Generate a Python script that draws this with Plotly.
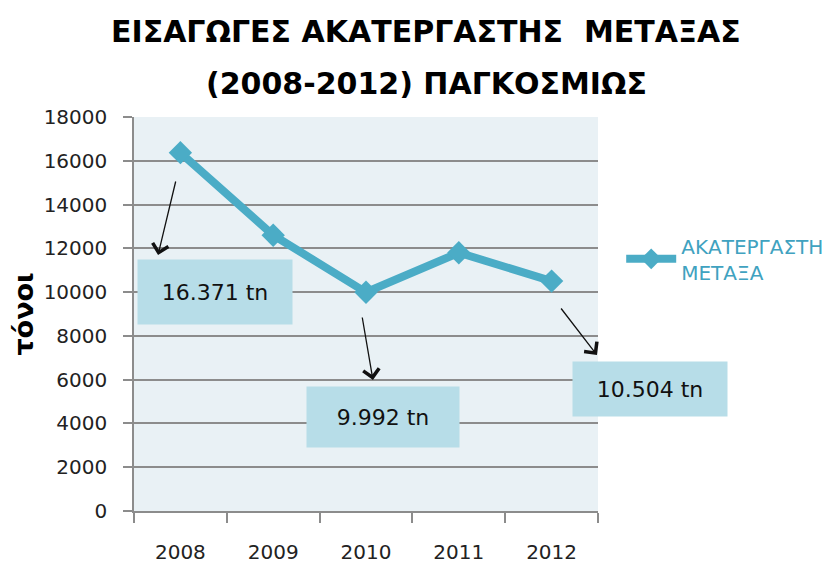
import plotly.graph_objects as go

# data
years = ['2008', '2009', '2010', '2011', '2012']
tonnes = [16371, 12600, 9992, 11800, 10504]
series_name = 'ΑΚΑΤΕΡΓΑΣΤΗ<br>ΜΕΤΑΞΑ'
title_lines = ['ΕΙΣΑΓΩΓΕΣ ΑΚΑΤΕΡΓΑΣΤΗΣ  ΜΕΤΑΞΑΣ', '(2008-2012) ΠΑΓΚΟΣΜΙΩΣ']
y_title = 'τόνοι'
y_ticks = list(range(0, 18001, 2000))

# which points get a callout box
callout_idx = [0, 2, 4]

line_col = '#4bacc6'
box_col = '#b7dde8'
font_main = 'DejaVu Sans'


def label(v):
    return '{:,}'.format(v).replace(',', '.') + ' tn'


fig = go.Figure()
fig.add_trace(go.Scatter(x=years, y=tonnes, name=series_name,
                         mode='lines+markers',
                         line=dict(color=line_col, width=8),
                         marker=dict(symbol='diamond', size=18, color=line_col)))

# title, two lines placed separately for the wider line spacing
for txt, ty in zip(title_lines, [1.216, 1.086]):
    fig.add_annotation(x=0.63, y=ty, xref='paper', yref='paper',
                       xanchor='center', yanchor='middle', showarrow=False,
                       text='<b>' + txt + '</b>',
                       font=dict(family=font_main, size=30, color='#000000'))

# callout boxes (paper coords) and arrows (data coords)
box_pos = [(0.1735, 0.555), (0.537, 0.239), (1.112, 0.310)]
box_size = [(150, 60), (148, 56), (150, 50)]
arrows = [((-0.047, 15122), (-0.241, 11695)),
          ((1.957, 8909), (2.075, 5985)),
          ((4.09, 9320), (4.489, 7127))]

for i, (bx, by), (bw, bh), (tail, head) in zip(callout_idx, box_pos, box_size, arrows):
    fig.add_annotation(x=bx, y=by, xref='paper', yref='paper',
                       xanchor='center', yanchor='middle',
                       text=label(tonnes[i]), showarrow=False,
                       bgcolor=box_col, width=bw, height=bh, borderpad=2,
                       font=dict(family=font_main, size=22, color='#111111'))
    fig.add_annotation(x=head[0], y=head[1], xref='x', yref='y',
                       ax=tail[0], ay=tail[1], axref='x', ayref='y',
                       text='', showarrow=True, arrowhead=4, arrowsize=2.4,
                       arrowwidth=1.3, arrowcolor='#111111')

# page body adds an 8px offset, margins account for it
fig.update_layout(
    width=835, height=563,
    margin=dict(l=126, r=245, t=109, b=60, autoexpand=False),
    paper_bgcolor='white', plot_bgcolor='#e9f1f5',
    showlegend=True,
    legend=dict(x=1.05, y=0.64, xanchor='left', yanchor='middle',
                font=dict(family=font_main, size=20, color='#40a2c0'),
                itemwidth=50, bgcolor='rgba(0,0,0,0)'),
    hovermode=False,
)

fig.update_xaxes(type='category', range=[-0.5, 4.5], automargin=False,
                 showgrid=False, showline=True, linecolor='#8c8c8c', linewidth=1.5,
                 ticks='outside', tickson='boundaries', ticklen=10,
                 tickcolor='#8c8c8c', tickwidth=1.5, ticklabelstandoff=22,
                 tickfont=dict(family=font_main, size=20, color='#222222'))

fig.update_yaxes(range=[0, 18000], tickvals=y_ticks, tickformat='d', automargin=False,
                 showgrid=True, gridcolor='#8c8c8c', gridwidth=1.5,
                 showline=True, linecolor='#8c8c8c', linewidth=1.5,
                 ticks='outside', ticklen=9, tickcolor='#8c8c8c', tickwidth=1.5,
                 ticklabelstandoff=12, zeroline=False,
                 tickfont=dict(family=font_main, size=20, color='#222222'),
                 title=dict(text='<b>' + y_title + '</b>', standoff=6,
                            font=dict(family=font_main, size=27, color='#000000')))

fig.write_html('out.html')
